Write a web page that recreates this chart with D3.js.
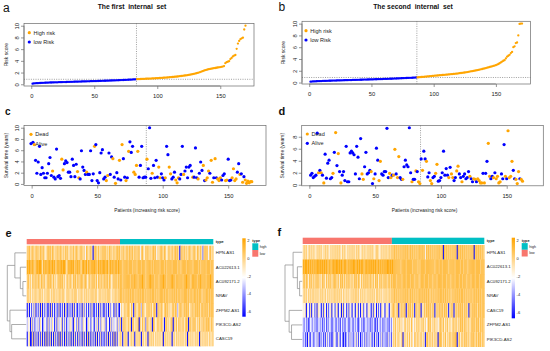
<!DOCTYPE html>
<html>
<head>
<meta charset="utf-8">
<script src="https://cdn.jsdelivr.net/npm/d3@7/dist/d3.min.js"></script>
<style>
  body { margin: 0; background: #ffffff; }
  svg { display: block; font-family: "Liberation Sans", Arial, Helvetica, sans-serif; }
</style>
</head>
<body>
<div id="figure"></div>
<script>
// ---- risk score per patient, sorted ascending (panels a, b) ----
const riskFirst = [
  0.10,0.14,0.16,0.18,0.19,0.21,0.22,0.23,0.24,0.25,
  0.26,0.27,0.28,0.29,0.30,0.30,0.31,0.32,0.33,0.33,
  0.34,0.35,0.36,0.36,0.37,0.38,0.38,0.39,0.40,0.40,
  0.41,0.42,0.42,0.43,0.44,0.44,0.45,0.46,0.46,0.47,
  0.48,0.48,0.49,0.50,0.50,0.51,0.52,0.52,0.53,0.54,
  0.54,0.55,0.56,0.57,0.57,0.58,0.59,0.60,0.60,0.61,
  0.62,0.63,0.64,0.64,0.65,0.66,0.67,0.68,0.69,0.70,
  0.71,0.72,0.73,0.74,0.75,0.76,0.77,0.78,0.79,0.80,
  0.82,0.83,0.85,
  0.87,0.88,0.89,0.90,0.91,0.92,0.93,0.94,0.95,0.96,
  0.97,0.98,0.99,1.00,1.01,1.03,1.04,1.05,1.07,1.08,
  1.10,1.11,1.13,1.15,1.16,1.18,1.20,1.22,1.24,1.26,
  1.28,1.30,1.33,1.35,1.38,1.41,1.44,1.47,1.50,1.53,
  1.56,1.60,1.64,1.68,1.72,1.77,1.82,1.88,1.94,2.00,
  2.08,2.16,2.24,2.32,2.40,2.46,2.52,2.57,2.62,2.66,
  2.70,2.74,2.78,2.82,2.86,2.90,2.94,2.98,3.02,3.10,
  3.60,3.78,3.85,3.95,4.30,4.50,4.75,4.90,5.00,6.05,
  6.95,7.40,7.70,7.85,7.95,9.35,10.0
];
const lowFirst = 83;

const riskSecond = [
  0.15,0.17,0.19,0.20,0.21,0.22,0.23,0.24,0.25,0.26,
  0.27,0.28,0.28,0.29,0.30,0.31,0.31,0.32,0.33,0.34,
  0.34,0.35,0.36,0.36,0.37,0.38,0.38,0.39,0.40,0.40,
  0.41,0.42,0.42,0.43,0.44,0.44,0.45,0.46,0.46,0.47,
  0.48,0.48,0.49,0.50,0.50,0.51,0.52,0.52,0.53,0.54,
  0.54,0.55,0.56,0.56,0.57,0.58,0.58,0.59,0.60,0.61,
  0.61,0.62,0.63,0.64,0.65,0.65,0.66,0.67,0.68,0.69,
  0.70,0.71,0.72,0.73,0.74,0.75,0.76,0.77,0.78,0.79,
  0.80,0.81,0.82,0.83,0.84,0.86,
  0.88,0.90,0.92,0.94,0.96,0.98,1.00,1.02,1.04,1.06,
  1.08,1.10,1.12,1.14,1.16,1.18,1.20,1.22,1.24,1.26,
  1.28,1.30,1.32,1.34,1.36,1.38,1.40,1.42,1.44,1.46,
  1.48,1.50,1.53,1.56,1.59,1.62,1.65,1.68,1.71,1.74,
  1.78,1.82,1.86,1.90,1.94,1.98,2.02,2.06,2.10,2.15,
  2.20,2.25,2.30,2.35,2.40,2.46,2.52,2.58,2.64,2.70,
  2.76,2.82,2.88,2.95,3.05,3.15,3.28,3.42,3.56,3.70,
  3.80,4.10,4.40,4.55,4.70,5.00,5.20,6.00,6.15,6.70,
  6.80,8.00,9.95,10.0,10.0
];
const lowSecond = 86;

// ---- survival time (years) in risk order (panels c, d); status D = dead, A = alive ----
const survFirst = [
  7.4,7.0,4.2,1.9,3.9,6.7,1.7,2.9,1.9,1.1, 1.1,1.9,3.6,4.7,1.5,2.3,1.2,0.9,6.2,1.3,
  1.5,1.0,4.4,2.5,3.6,4.1,3.8,2.1,2.1,1.3, 4.4,3.3,1.3,3.5,2.2,1.1,0.9,5.9,3.0,2.4,
  1.7,2.1,1.7,1.7,5.9,0.6,1.8,6.7,7.0,0.6, 0.2,2.0,5.5,6.1,0.9,1.2,0.6,1.5,5.5,1.7,
  4.8,4.5,1.2,0.1,2.0,0.9,4.2,0.7,7.0,4.5, 1.2,0.6,1.1,5.8,7.5,5.6,6.7,2.1,1.7,3.3,
  5.8,1.2,3.3,6.7,1.1,1.2,1.2,4.4,2.7,10.0, 1.0,1.9,3.3,1.1,4.2,1.2,3.0,1.1,1.8,1.1,
  0.7,1.1,6.7,5.2,3.0,1.8,0.9,1.2,2.1,0.7, 0.2,1.1,0.9,1.7,6.7,1.7,2.3,3.0,1.1,3.0,
  3.3,2.3,1.2,1.2,6.4,1.1,0.9,1.9,3.9,2.4, 3.3,0.6,0.7,1.1,2.3,1.9,4.2,0.3,1.1,4.5,
  1.1,0.9,0.6,1.1,0.7,1.5,1.8,0.6,0.7,4.4, 0.6,0.7,1.1,2.7,0.6,0.9,2.1,3.6,1.7,1.8,
  0.3,1.3,0.7,0.1,0.5,0.2,0.4,0.4
];
const statusFirst = 'ADAAAAAAAA AAAAADAAAA AADDAAAAAA AAAADDAAAA ADAAAAADAA AAAAAADDAA ADADAADADA ADADAAADDD DAAAAAADAA ADAAAADDAA ADAADDAAAD DDAAADAAAA AADAAADAAA DADDDADDAD ADDDAAADDA AADDDDAADA DADDDDDD';
const cutSurvFirst = 87.5;

const survSecond = [
  1.6,1.9,1.2,1.4,1.6,8.6,2.0,2.4,2.0,1.6, 0.3,5.1,1.1,3.6,4.1,1.0,1.2,1.9,5.4,8.7,
  3.2,5.2,2.2,0.3,1.6,2.2,0.7,6.4,0.5,0.5, 5.3,5.6,5.3,5.0,1.8,6.4,4.6,1.0,7.7,1.8,
  0.9,3.0,5.4,1.8,2.0,2.4,2.2,0.2,1.0,1.8, 6.1,4.1,0.7,3.9,1.8,1.6,2.2,2.2,9.4,1.2,
  1.9,1.2,1.6,1.6,5.9,1.8,1.2,4.7,1.2,0.9, 0.9,3.0,4.1,3.3,3.0,9.5,2.0,0.5,0.9,0.9,
  2.3,2.2,0.5,0.2,4.3,2.4,5.6,4.3,3.9,1.3, 2.0,0.7,0.2,1.2,1.4,1.9,3.4,0.6,0.7,1.2,
  2.0,5.6,1.6,2.7,1.6,1.2,2.9,1.8,1.2,0.7, 1.2,2.3,3.1,1.8,1.2,0.5,1.4,1.8,1.0,1.2,
  2.2,1.4,1.0,0.5,1.0,0.9,0.5,1.0,0.7,0.3, 0.3,1.9,0.3,1.9,3.9,6.9,1.4,1.0,1.4,1.2,
  2.0,1.0,1.4,0.3,0.5,1.8,1.0,6.7,1.4,1.0, 9.0,1.2,1.4,3.9,2.4,1.0,0.9,0.2,2.2,1.0,
  0.9,0.6
];
const statusSecond = 'AAAAAADADA DAAAAAADAD ADADAAAAAA AAAAAAAAAD DAAAAADADA AADDAAAAAA DDADDADDAA DAAAAAADAA DADDADAADA ADDAADDAAA AAAAADADDA ADDAADAAAA ADAADDADDD DADAADDAAD ADDDDAAADA DDDDAADDDA DD';
const cutSurvSecond = 84.5;

const patientTicks = [0, 50, 100, 150];
const riskTicks = [0, 2, 4, 6, 8, 10];
const survTicksFirst = [0, 2, 4, 6, 8, 10];
const survTicksSecond = [0, 2, 4, 6, 8];

// ---- heatmaps (e, f): one digit per patient, looked up in heatLevels ----
const heatLevels = [-6.3, -5.3, -4.3, -3.3, -2.3, -1.4, -0.6, 0.2, 1.0, 2.0];
const legendTicks = [2, 0, -2, -4, -6];

const genesFirst = ['HPN-AS1', 'AC022613.1', 'AC092171.2', 'NRAV', 'ZFPM2-AS1', 'PIK3CD-AS2', 'CASC19'];
const exprFirst = [
  '7786787687 7687786578 7868767786 8767687857 7686787678 7674876786 0787686778 7867687768 6787867786 7868778687 7784786587 8676787847 6787687568 7686787860 7868676787 6787587686 2787847867',
  '9898898789 8998698988 9889897898 8989986898 9897889896 8988979889 8988798989 9889789898 8979888788 8878887888 7888788878 8887878888 8788878788 8878888788 7888878888 8788887878 8887888788',
  '7867587786 8768778578 7876867587 8786757868 7587868778 8678757868 7868587786 8778687578 7868788788 8888788898 8788898878 8898887888 7888988788 8898878888 8878898887 8988878898 8887888988',
  '7767576776 6776757677 7576776767 7677657776 6767775767 7576767677 7677567767 6767776576 7767788787 8787878878 7878788787 8787887878 7888787887 8787878788 7878887878 8788787887 7878878788',
  '0504152604 1506041520 5061405216 0415062051 4061520415 0625140516 2041506152 0514062540 6152047568 6787586078 5787387658 7868578707 8687578786 7578687368 8768787857 7868787868 8787868788',
  '3540625143 5264035416 2536405163 4615250436 5306426153 2645036415 4053615264 6315406253 4526370687 7586707857 6807586727 8576087568 7687507867 5870768587 7685787078 6878576867 7868787687',
  '0560170615 0516050706 1605061507 0615060516 0506150615 0615070605 1506051604 0516061507 0615676067 7605676706 7676067576 0767675767 6757067676 7606757676 7675760767 6757676076 7676757667'
];
const lowHeatFirst = 85;

const genesSecond = ['HPN-AS1', 'AC022613.1', 'AC092171.2', 'NRAV', 'CASC19', 'ZFPM2-AS1', 'PIK3CD-AS2'];
const exprSecond = [
  '6767567676 7657676756 6767657676 7676765767 6576767675 7676567676 6767676567 7656767676 6767778787 8787878787 7878787878 8787848787 8787878787 7808787878 7878708787 8787878787 8078787878 7',
  '9899898989 8989989898 9898898899 8998989889 9889898998 8989899889 9898989898 8989898989 9898988888 8878888788 8887888878 7888878888 8888788878 8788888788 8887888878 8788878888 8878888788 8',
  '7868758786 8687867587 7586878678 8768587868 6878768587 8687586878 7868768587 8587868786 7868788878 8887888788 8788878887 7888788878 8878887888 8788878887 8887888788 7888788878 8878887888 8',
  '6767576767 7676757676 6757676767 7676767576 6767576767 7675767676 6767676757 7676757676 6767778787 8787878787 7878787878 8787878787 7878787878 8787878787 7878787878 8787878787 7878787878 8',
  '5460541605 4150654051 6405146054 1560450615 4051640540 5614056145 0564051640 5140654056 4056787678 0678687068 7868607868 7065868787 8687068687 7868786067 8706868787 8687860868 7878687878 8',
  '3242312432 4231342413 2413243124 3142314232 2431243142 4213423124 3241324213 1432413242 3142476857 6857468576 7586475868 5768574687 8576857468 7685768576 5876857687 8687768578 7868786878 7',
  '2413052143 1342503241 3152413025 4215314203 0341524135 2514032415 1425314052 3042514231 5241576857 7658067585 8576487686 6857507867 7685867078 8576857687 6878806857 7687868587 8768687868 7'
];
const lowHeatSecond = 84;

// row dendrograms, h = merge height (0 = leaves, 1 = root)
const treeFirst = { h: 1, c: [
  { h: 0.6, c: ['HPN-AS1', { h: 0.31, c: ['AC022613.1', { h: 0.175, c: ['AC092171.2', 'NRAV'] }] }] },
  { h: 0.86, c: ['ZFPM2-AS1', { h: 0.77, c: ['PIK3CD-AS2', 'CASC19'] }] }
] };
const treeSecond = { h: 1, c: [
  { h: 0.53, c: ['HPN-AS1', { h: 0.28, c: ['AC022613.1', { h: 0.15, c: ['AC092171.2', 'NRAV'] }] }] },
  { h: 0.76, c: ['CASC19', { h: 0.62, c: ['ZFPM2-AS1', 'PIK3CD-AS2'] }] }
] };

const BLUE = '#0000FF', ORANGE = '#FFA500', AXIS = '#6b6b6b', TEXT = '#222';
const HIGH = '#00BFC4', LOW = '#F8766D';
const heatColor = d3.scaleLinear().domain([-6.6, -2.15, 2.3]).range([BLUE, '#FFFFFF', ORANGE]);

const svg = d3.select('#figure').append('svg').attr('width', 550).attr('height', 351);

function letter(txt, x, y, size, weight) {
    svg.append('text').attr('x', x).attr('y', y)
        .attr('font-size', size).attr('font-weight', weight)
        .attr('fill', '#111').text(txt);
}

function rPad(lo, hi) {
    const p = 0.04 * (hi - lo);
    return [lo - p, hi + p];
}

function drawAxes(g, x, y, box, xTicks, yTicks) {
    g.append('rect')
        .attr('x', box.x0).attr('y', box.y0)
        .attr('width', box.x1 - box.x0).attr('height', box.y1 - box.y0)
        .attr('fill', 'none').attr('stroke', AXIS).attr('stroke-width', 0.7);

    const xa = g.append('g')
        .attr('transform', `translate(0,${box.y1})`)
        .call(d3.axisBottom(x).tickValues(xTicks).tickSize(3).tickPadding(5))
        .attr('color', AXIS).attr('font-size', 5.8).attr('font-family', null);
    xa.select('.domain').remove();
    xa.append('line')
        .attr('x1', x(xTicks[0])).attr('x2', x(xTicks[xTicks.length - 1]))
        .attr('stroke', AXIS).attr('stroke-width', 0.7);
    xa.selectAll('.tick line').attr('stroke-width', 0.7);
    xa.selectAll('.tick text').attr('fill', TEXT);

    const ya = g.append('g')
        .attr('transform', `translate(${box.x0},0)`)
        .call(d3.axisLeft(y).tickValues(yTicks).tickSize(3))
        .attr('color', AXIS).attr('font-size', 5.8).attr('font-family', null);
    ya.select('.domain').remove();
    ya.append('line')
        .attr('y1', y(yTicks[0])).attr('y2', y(yTicks[yTicks.length - 1]))
        .attr('stroke', AXIS).attr('stroke-width', 0.7);
    ya.selectAll('.tick line').attr('stroke-width', 0.7);
    // R style: labels parallel to the axis
    ya.selectAll('.tick text')
        .attr('x', 0).attr('y', -5).attr('dy', null)
        .attr('transform', 'rotate(-90)')
        .attr('text-anchor', 'middle')
        .attr('fill', TEXT);
}

function yTitle(txt, x, box) {
    svg.append('text')
        .attr('transform', `translate(${x},${(box.y0 + box.y1) / 2}) rotate(-90)`)
        .attr('text-anchor', 'middle').attr('dy', '0.35em')
        .attr('font-size', 5).attr('fill', TEXT)
        .text(txt);
}

function legend(items, lx, ly) {
    items.forEach((it, i) => {
        svg.append('circle')
            .attr('cx', lx).attr('cy', ly + i * 9.3).attr('r', 1.6)
            .attr('fill', it.color);
        svg.append('text')
            .attr('x', lx + 4.3).attr('y', ly + i * 9.3).attr('dy', '0.35em')
            .attr('font-size', 5.5).attr('fill', TEXT)
            .text(it.label);
    });
}

function riskPanel(cfg) {
    const { box, values, lowCount } = cfg;
    const n = values.length;
    const x = d3.scaleLinear().domain(rPad(1, n)).range([box.x0, box.x1]);
    const y = d3.scaleLinear().domain(rPad(d3.min(values), d3.max(values))).range([box.y1, box.y0]);
    const g = svg.append('g');

    // cutoff lines
    g.append('line')
        .attr('x1', x(lowCount + 0.5)).attr('x2', x(lowCount + 0.5))
        .attr('y1', box.y0).attr('y2', box.y1)
        .attr('stroke', '#888').attr('stroke-width', 0.8).attr('stroke-dasharray', '1,1.3');
    g.append('line')
        .attr('x1', box.x0).attr('x2', box.x1)
        .attr('y1', y(values[lowCount - 1])).attr('y2', y(values[lowCount - 1]))
        .attr('stroke', '#888').attr('stroke-width', 0.8).attr('stroke-dasharray', '1,1.3');

    g.selectAll('.pt')
        .data(values)
        .enter()
        .append('circle')
        .attr('class', 'pt')
        .attr('cx', (d, i) => x(i + 1))
        .attr('cy', d => y(d))
        .attr('r', 1.15)
        .attr('fill', (d, i) => i < lowCount ? BLUE : ORANGE);

    drawAxes(g, x, y, box, patientTicks, riskTicks);
    yTitle('Risk score', cfg.titleX, box);

    svg.append('text')
        .attr('x', cfg.headX).attr('y', 8.8)
        .attr('text-anchor', 'middle')
        .attr('font-size', 6.8).attr('font-weight', 'bold')
        .attr('fill', '#111')
        .style('white-space', 'pre')
        .text(cfg.head);

    legend([{ label: 'High risk', color: ORANGE }, { label: 'low Risk', color: BLUE }], cfg.legend[0], cfg.legend[1]);
}

function survivalPanel(cfg) {
    const { box, values, status } = cfg;
    const dead = status.replace(/ /g, '');
    const x = d3.scaleLinear().domain(cfg.xDomain).range([box.x0, box.x1]);
    const y = d3.scaleLinear().domain(rPad(d3.min(values), d3.max(values))).range([box.y1, box.y0]);
    const g = svg.append('g');

    g.append('line')
        .attr('x1', x(cfg.cut)).attr('x2', x(cfg.cut))
        .attr('y1', box.y0).attr('y2', box.y1)
        .attr('stroke', '#888').attr('stroke-width', 0.8).attr('stroke-dasharray', '1,1.3');

    g.selectAll('.pt')
        .data(values)
        .enter()
        .append('circle')
        .attr('class', 'pt')
        .attr('cx', (d, i) => x(i + 1))
        .attr('cy', d => y(d))
        .attr('r', 1.6)
        .attr('fill', (d, i) => dead[i] === 'D' ? ORANGE : BLUE);

    drawAxes(g, x, y, box, patientTicks, cfg.yTicks);
    yTitle('Survival time (years)', cfg.titleX, box);

    svg.append('text')
        .attr('x', (box.x0 + box.x1) / 2 + 2).attr('y', box.y1 + 26.5)
        .attr('text-anchor', 'middle')
        .attr('font-size', 4.8).attr('fill', TEXT)
        .text('Patients (increasing risk score)');

    legend([{ label: 'Dead', color: ORANGE }, { label: 'Alive', color: BLUE }], cfg.legend[0], cfg.legend[1]);
}

function heatmapPanel(cfg) {
    const { x0, x1, y0, y1, genes, rows, lowCount, tree } = cfg;
    const mats = rows.map(s => s.replace(/ /g, '').split('').map(c => heatLevels[+c]));
    const nCol = d3.max(mats, m => m.length);
    const g = svg.append('g');

    const yb = d3.scaleBand().domain(genes).range([y0, y1]);

    mats.forEach((m, r) => {
        const xc = d3.scaleLinear().domain([0, m.length]).range([x0, x1]);
        g.append('g')
            .selectAll('rect')
            .data(m)
            .enter()
            .append('rect')
            .attr('x', (d, i) => xc(i))
            .attr('width', xc(1) - xc(0) + 0.35)
            .attr('y', yb(genes[r]))
            .attr('height', yb.bandwidth() + 0.3)
            .attr('fill', d => heatColor(d));
    });

    // type annotation bar
    const xa = d3.scaleLinear().domain([0, nCol]).range([x0, x1]);
    g.append('rect')
        .attr('x', xa(0)).attr('width', xa(lowCount) - xa(0))
        .attr('y', cfg.annY0).attr('height', cfg.annY1 - cfg.annY0)
        .attr('fill', LOW);
    g.append('rect')
        .attr('x', xa(lowCount)).attr('width', xa(nCol) - xa(lowCount))
        .attr('y', cfg.annY0).attr('height', cfg.annY1 - cfg.annY0)
        .attr('fill', HIGH);
    g.append('text')
        .attr('x', x1 + 2.5).attr('y', (cfg.annY0 + cfg.annY1) / 2).attr('dy', '0.35em')
        .attr('font-size', 3.8).attr('font-weight', 'bold').attr('fill', TEXT)
        .text('type');

    // row labels
    g.selectAll('.gene')
        .data(genes)
        .enter()
        .append('text')
        .attr('class', 'gene')
        .attr('x', x1 + 2.5)
        .attr('y', d => yb(d) + yb.bandwidth() / 2)
        .attr('dy', '0.35em')
        .attr('font-size', 4.3).attr('fill', TEXT)
        .text(d => d);

    // row dendrogram
    const root = d3.hierarchy(tree, d => d.c);
    const tx = d3.scaleLinear().domain([0, 1]).range([x0 - 0.5, cfg.treeX]);
    root.eachAfter(node => {
        if (node.children) {
            node.py = d3.mean(node.children, c => c.py);
            node.px = tx(node.data.h);
        } else {
            node.py = yb(node.data) + yb.bandwidth() / 2;
            node.px = tx(0);
        }
    });
    root.each(node => {
        if (!node.children) return;
        const [a, b] = node.children;
        g.append('path')
            .attr('d', `M${a.px},${a.py}H${node.px}V${b.py}H${b.px}`)
            .attr('fill', 'none').attr('stroke', '#8a8a8a').attr('stroke-width', 0.7);
    });

    // colour key
    const cb = cfg.colorbar;
    const ky = d3.scaleLinear().domain([2.3, -6.6]).range([cb.y0, cb.y1]);
    const gradId = 'grad' + cfg.id;
    const grad = svg.append('defs').append('linearGradient')
        .attr('id', gradId).attr('x1', 0).attr('x2', 0).attr('y1', 0).attr('y2', 1);
    d3.range(0, 1.0001, 0.05).forEach(t => {
        grad.append('stop')
            .attr('offset', t)
            .attr('stop-color', heatColor(ky.invert(cb.y0 + t * (cb.y1 - cb.y0))));
    });
    g.append('rect')
        .attr('x', cb.x).attr('y', cb.y0)
        .attr('width', cb.w).attr('height', cb.y1 - cb.y0)
        .attr('fill', `url(#${gradId})`);
    g.selectAll('.ktick')
        .data(legendTicks)
        .enter()
        .append('text')
        .attr('class', 'ktick')
        .attr('x', cb.x + cb.w + 1.6)
        .attr('y', d => ky(d)).attr('dy', '0.35em')
        .attr('font-size', 4).attr('fill', TEXT)
        .text(d => d);

    // type legend
    const tl = cfg.typeLegend;
    g.append('text')
        .attr('x', tl.x).attr('y', tl.y).attr('dy', '0.35em')
        .attr('font-size', 3.8).attr('font-weight', 'bold').attr('fill', TEXT)
        .text('type');
    [{ label: 'high', color: HIGH }, { label: 'low', color: LOW }].forEach((it, i) => {
        g.append('rect')
            .attr('x', tl.x).attr('y', tl.y + 2.8 + i * 6.7)
            .attr('width', 6).attr('height', 6.7)
            .attr('fill', it.color);
        g.append('text')
            .attr('x', tl.x + 7.5).attr('y', tl.y + 6.2 + i * 6.7).attr('dy', '0.35em')
            .attr('font-size', 3.6).attr('fill', TEXT)
            .text(it.label);
    });
}

// ---- panels ----
letter('a', 3, 11.5, 12, 'normal');
letter('b', 278.5, 10.5, 12, 'normal');
letter('c', 5, 114.5, 10, 'bold');
letter('d', 278.5, 115, 11, 'bold');
letter('e', 5.5, 236.5, 11, 'bold');
letter('f', 277.5, 236, 11, 'bold');

riskPanel({
    box: { x0: 24, x1: 254, y0: 23.4, y1: 86 },
    values: riskFirst, lowCount: lowFirst,
    head: 'The first  internal  set', headX: 132,
    titleX: 6.7, legend: [29.3, 32.7]
});
riskPanel({
    box: { x0: 302, x1: 530.5, y0: 21.3, y1: 84 },
    values: riskSecond, lowCount: lowSecond,
    head: 'The second  internal  set', headX: 413,
    titleX: 283, legend: [306, 30.7]
});

survivalPanel({
    box: { x0: 24, x1: 266, y0: 125.5, y1: 185.6 },
    values: survFirst, status: statusFirst, cut: cutSurvFirst,
    xDomain: [-5.84, 178.84], yTicks: survTicksFirst,
    titleX: 6.7, legend: [31, 134.3]
});
survivalPanel({
    box: { x0: 301.7, x1: 543.3, y0: 125.5, y1: 185.8 },
    values: survSecond, status: statusSecond, cut: cutSurvSecond,
    xDomain: [-5.8, 177.8], yTicks: survTicksSecond,
    titleX: 282.5, legend: [307.3, 134]
});

heatmapPanel({
    id: 'e', x0: 26.7, x1: 213.3, y0: 245.7, y1: 346, annY0: 239, annY1: 244.3,
    genes: genesFirst, rows: exprFirst, lowCount: lowHeatFirst, tree: treeFirst, treeX: 7.3,
    colorbar: { x: 242.3, w: 3.4, y0: 238.3, y1: 316.7 },
    typeLegend: { x: 252.3, y: 240.5 }
});
heatmapPanel({
    id: 'f', x0: 302.7, x1: 484.3, y0: 245, y1: 346.7, annY0: 237.7, annY1: 244,
    genes: genesSecond, rows: exprSecond, lowCount: lowHeatSecond, tree: treeSecond, treeX: 285,
    colorbar: { x: 511.7, w: 3.3, y0: 237.7, y1: 318.3 },
    typeLegend: { x: 521.7, y: 240.3 }
});
</script>
</body>
</html>
